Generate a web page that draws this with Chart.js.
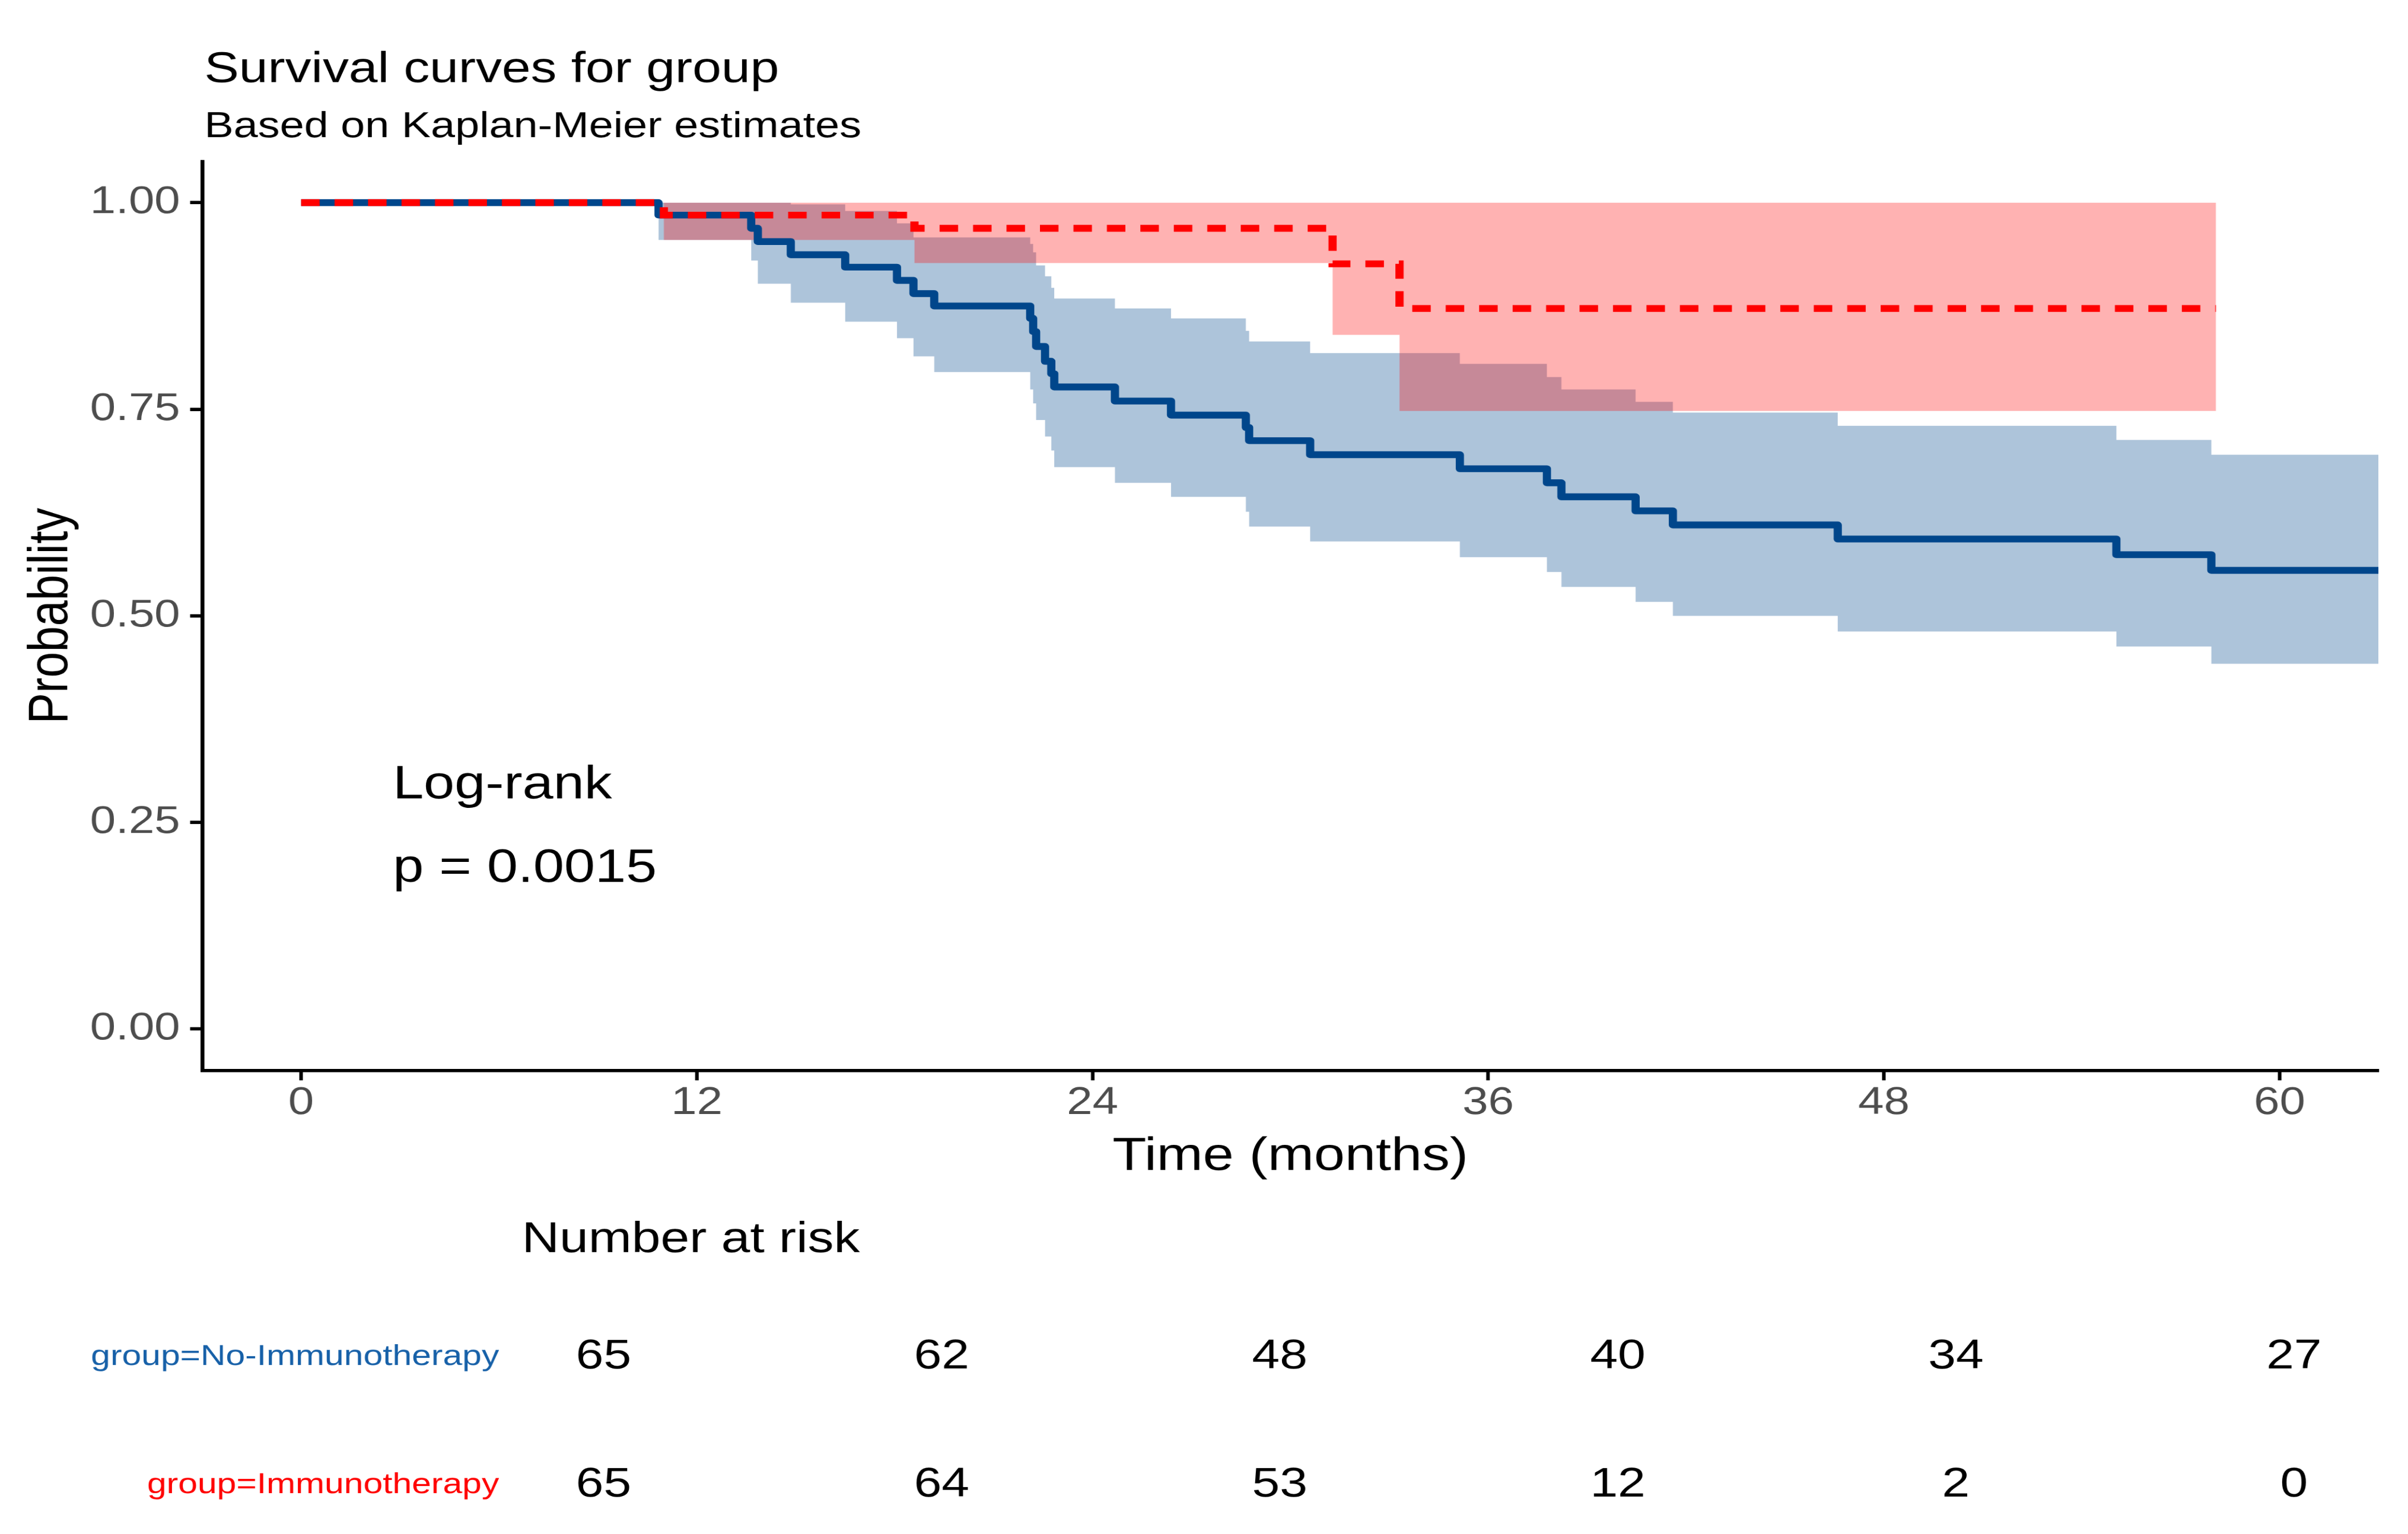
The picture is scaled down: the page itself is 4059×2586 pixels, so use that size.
<!DOCTYPE html>
<html lang="en">
<head>
<meta charset="utf-8" />
<title>Survival curves for group</title>
<style>
  html, body { margin: 0; padding: 0; background: #fff; overflow: hidden; }
  /* the reference is stretched sideways by ~1.2, so draw narrower and scale it out */
  #wrap { width: 3383px; height: 2586px; transform: scaleX(1.19982); transform-origin: 0 0; }
  #km { width: 3383px; height: 2586px; }
</style>
</head>
<body>

<div id="wrap"><canvas id="km" width="3383" height="2586"></canvas></div>

<script src="https://cdn.jsdelivr.net/npm/chart.js"></script>
<script>
    // axis ticks
    const timeTicks = [0, 12, 24, 36, 48, 60];
    const probTicks = [0, 0.25, 0.5, 0.75, 1];

    // group=No-Immunotherapy : step times (months), KM estimate, 95% CI
    const noTime  = [0, 10.84, 13.65, 13.85, 14.85, 16.5, 18.07, 18.57, 19.2, 22.11, 22.2, 22.29, 22.56, 22.75, 22.84, 24.68, 26.38, 28.65, 28.75, 30.6, 35.14, 37.78, 38.22, 40.47, 41.6, 46.6, 55.05, 57.93, 63];
    const noSurv  = [1, 0.985, 0.969, 0.953, 0.937, 0.922, 0.906, 0.890, 0.875, 0.860, 0.844, 0.826, 0.808, 0.793, 0.777, 0.760, 0.743, 0.728, 0.712, 0.695, 0.678, 0.661, 0.644, 0.627, 0.610, 0.593, 0.574, 0.555, 0.555];
    const noUpper = [1, 1, 1, 1, 0.998, 0.99, 0.975, 0.958, 0.958, 0.95, 0.94, 0.924, 0.911, 0.897, 0.884, 0.872, 0.860, 0.845, 0.832, 0.818, 0.805, 0.789, 0.774, 0.759, 0.746, 0.730, 0.713, 0.695, 0.695];
    const noLower = [1, 0.955, 0.93, 0.902, 0.879, 0.856, 0.836, 0.814, 0.795, 0.774, 0.757, 0.737, 0.717, 0.70, 0.680, 0.661, 0.644, 0.626, 0.608, 0.590, 0.571, 0.553, 0.535, 0.517, 0.500, 0.481, 0.463, 0.442, 0.442];

    // group=Immunotherapy
    const imTime  = [0, 11.0, 18.6, 31.28, 33.31, 58.07];
    const imSurv  = [1, 0.985, 0.969, 0.926, 0.872, 0.872];
    const imUpper = [1, 1, 1, 1, 1, 1];
    const imLower = [1, 0.955, 0.927, 0.840, 0.748, 0.748];

    // number at risk table
    const groupNames = ['group=No-Immunotherapy', 'group=Immunotherapy'];
    const riskNo = [65, 62, 48, 40, 34, 27];
    const riskIm = [65, 64, 53, 12, 2, 0];

    const pvalLines = ['Log-rank', 'p = 0.0015'];

    const BLUE = '#00468B';
    const RED = '#FF0000';
    const FONT = '"Liberation Sans", Arial, sans-serif';

    function pts(t, v) {
        return t.map((x, i) => ({ x: x, y: v[i] }));
    }

    function bandLine(data, fill, color) {
        return {
            data: data,
            stepped: 'before',
            borderWidth: 0,
            borderColor: 'rgba(0,0,0,0)',
            backgroundColor: color,
            pointRadius: 0,
            fill: fill
        };
    }

    // text outside the plot panel: titles, p-value, risk table
    const overlay = {
        id: 'overlay',
        afterDraw(chart) {
            const { ctx, chartArea: a, scales: { x, y } } = chart;
            ctx.save();
            ctx.fillStyle = '#000';
            ctx.textBaseline = 'alphabetic';
            ctx.textAlign = 'left';

            ctx.font = '73px ' + FONT;
            ctx.fillText('Survival curves for group', a.left + 3, 138);
            ctx.font = '61.5px ' + FONT;
            ctx.fillText('Based on Kaplan-Meier estimates', a.left + 3, 231);

            ctx.font = '78px ' + FONT;
            ctx.fillText(pvalLines[0], x.getPixelForValue(2.78), y.getPixelForValue(0.279));
            ctx.fillText(pvalLines[1], x.getPixelForValue(2.78), y.getPixelForValue(0.178));

            ctx.font = '78px ' + FONT;
            ctx.textAlign = 'center';
            ctx.fillText('Time (months)', (a.left + a.right) / 2, 1972);
            ctx.save();
            ctx.translate(94, (a.top + a.bottom) / 2);
            ctx.rotate(-Math.PI / 2);
            ctx.fillText('Probability', 0, 0);
            ctx.restore();

            // risk table has its own panel, same -3..63 range
            const tabL = 729, tabR = a.right;
            ctx.textAlign = 'left';
            ctx.font = '73px ' + FONT;
            ctx.fillText('Number at risk', tabL + 4, 2110);

            const rows = [
                { name: groupNames[0], vals: riskNo, col: '#1660a8', yy: 2287 },
                { name: groupNames[1], vals: riskIm, col: RED, yy: 2503 }
            ];
            ctx.textBaseline = 'middle';
            rows.forEach(r => {
                ctx.textAlign = 'right';
                ctx.fillStyle = r.col;
                ctx.font = '49px ' + FONT;
                ctx.fillText(r.name, 701, r.yy);
                ctx.textAlign = 'center';
                ctx.fillStyle = '#000';
                ctx.font = '70px ' + FONT;
                r.vals.forEach((v, i) => {
                    const d = (timeTicks[i] - x.min) / (x.max - x.min);
                    ctx.fillText(String(v), tabL + d * (tabR - tabL), r.yy);
                });
            });
            ctx.restore();
        }
    };

    const ctx = document.getElementById('km').getContext('2d');

    const config = {
        type: 'line',
        data: {
            datasets: [{
                label: 'Immunotherapy',
                data: pts(imTime, imSurv),
                stepped: 'before',
                borderColor: RED,
                borderWidth: 11.5,
                borderDash: [26, 21],
                borderCapStyle: 'butt',
                pointRadius: 0,
                fill: false
            }, {
                label: 'No-Immunotherapy',
                data: pts(noTime, noSurv),
                stepped: 'before',
                borderColor: BLUE,
                borderWidth: 11.5,
                borderJoinStyle: 'round',
                pointRadius: 0,
                fill: false
            },
                bandLine(pts(imTime, imUpper), '+1', 'rgba(255,0,0,0.3)'),
                bandLine(pts(imTime, imLower), false, 'rgba(255,0,0,0.3)'),
                bandLine(pts(noTime, noUpper), '+1', 'rgba(0,70,139,0.32)'),
                bandLine(pts(noTime, noLower), false, 'rgba(0,70,139,0.32)')
            ]
        },
        options: {
            animation: false,
            // fixed size: a responsive chart would read the transformed (wider) box
            responsive: false,
            devicePixelRatio: 1.25,
            events: [],
            layout: {
                padding: { left: 0, top: 272, right: 42, bottom: 0 }
            },
            plugins: {
                legend: { display: false },
                tooltip: { enabled: false }
            },
            scales: {
                x: {
                    type: 'linear',
                    min: -3,
                    max: 63,
                    afterBuildTicks: s => { s.ticks = timeTicks.map(v => ({ value: v })); },
                    afterFit: s => { s.height = 782; },
                    grid: { display: true, drawOnChartArea: false, drawTicks: true, tickLength: 17, tickWidth: 5, tickColor: '#000' },
                    border: { display: true, color: '#000', width: 5.5 },
                    ticks: { color: '#4d4d4d', font: { family: FONT, size: 65 }, padding: 0, autoSkip: false, maxRotation: 0 },
                    title: { display: false }
                },
                y: {
                    type: 'linear',
                    min: -0.05,
                    max: 1.05,
                    afterBuildTicks: s => { s.ticks = probTicks.map(v => ({ value: v })); },
                    afterFit: s => { s.width = 284; },
                    grid: { display: true, drawOnChartArea: false, drawTicks: true, tickLength: 17, tickWidth: 5.6, tickColor: '#000' },
                    border: { display: true, color: '#000', width: 5.5 },
                    ticks: { color: '#4d4d4d', font: { family: FONT, size: 65 }, padding: 14, callback: v => v.toFixed(2) },
                    title: { display: false }
                }
            }
        },
        plugins: [overlay]
    };

    const KM = new Chart(ctx, config);
</script>

</body>
</html>
